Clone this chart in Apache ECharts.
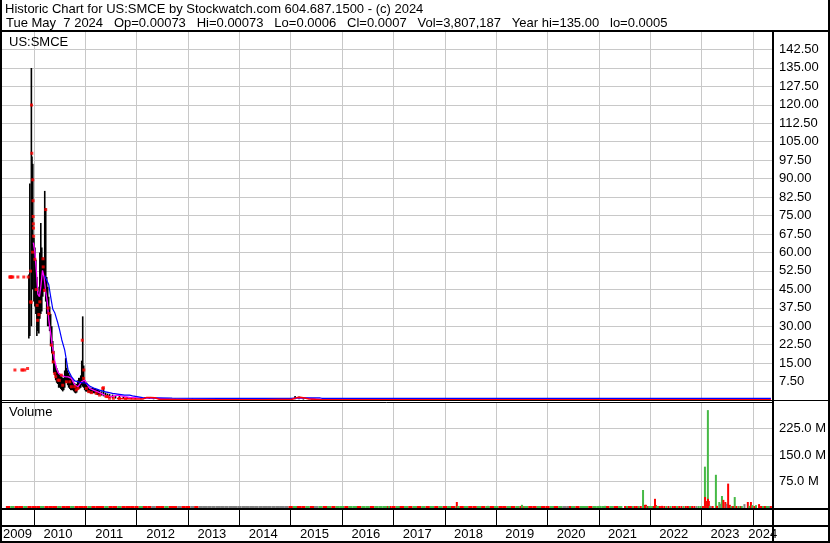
<!DOCTYPE html>
<html>
<head>
<meta charset="utf-8">
<script src="https://cdn.jsdelivr.net/npm/echarts@6.0.0/dist/echarts.min.js"></script>
<style>html,body{margin:0;padding:0;background:#fff;}#chart{width:830px;height:543px;}</style>
</head>
<body>
<div id="chart"></div>
<script>
// ---------------- DATA ----------------
const headerLine1 = 'Historic Chart for US:SMCE by Stockwatch.com 604.687.1500 - (c) 2024';
const headerLine2 = 'Tue May  7 2024   Op=0.00073   Hi=0.00073   Lo=0.0006   Cl=0.0007   Vol=3,807,187   Year hi=135.00   lo=0.0005';
const symbolLabel = 'US:SMCE';
const volumeLabel = 'Volume';

const yearLabels = ['2009','2010','2011','2012','2013','2014','2015','2016','2017','2018','2019','2020','2021','2022','2023','2024'];
const yearLabelDates = ['2009-08-31','2010-06-15','2011-06-15','2012-06-15','2013-06-15','2014-06-15','2015-06-15','2016-06-15','2017-06-15','2018-06-15','2019-06-15','2020-06-15','2021-06-15','2022-06-15','2023-06-15','2024-03-10'];

// daily/weekly high-low bars
const barDates = [
 '2009-11-26','2009-12-03','2009-12-14','2009-12-18','2009-12-24','2010-01-01','2010-01-08','2010-01-15','2010-01-22','2010-01-29',
 '2010-02-05','2010-02-12','2010-02-19','2010-02-26','2010-03-05','2010-03-12','2010-03-19','2010-03-26','2010-04-02','2010-04-09',
 '2010-04-16','2010-04-23','2010-04-30','2010-05-08','2010-05-15','2010-05-22','2010-05-29','2010-06-05','2010-06-12','2010-06-19',
 '2010-06-26','2010-07-03','2010-07-11','2010-07-18','2010-07-25','2010-08-01','2010-08-08','2010-08-15','2010-08-22','2010-08-29',
 '2010-09-05','2010-09-13','2010-09-20','2010-09-27','2010-10-04','2010-10-11','2010-10-18','2010-10-25','2010-11-01','2010-11-08',
 '2010-11-16','2010-11-23','2010-11-30','2010-12-07','2010-12-14','2010-12-21','2010-12-28','2011-01-04','2011-01-11','2011-01-18',
 '2011-01-25','2011-02-01','2011-02-08','2011-02-15','2011-02-22','2011-03-01','2011-03-08','2011-03-15','2011-03-23','2011-03-30',
 '2011-04-06','2011-04-13','2011-04-27','2011-05-11','2011-05-25','2011-06-08','2011-06-23','2011-07-14','2011-08-04','2011-09-01',
 '2011-09-29','2011-10-28','2011-11-25','2011-12-23','2012-02-01','2012-03-01','2012-04-01','2012-05-01','2012-07-01','2012-10-01',
 '2013-02-01','2013-06-01','2013-10-01','2014-03-01','2014-08-01','2015-02-01','2015-03-01','2015-04-01','2015-06-01'];
const barLow = [
 25,26,30,55,45,40,38,35,26,28,
 27,33,35,36,42,44,45,40,35,30,
 30,28,22,19,15,11,10,8,7,6.5,
 5,5,4.5,4,3.5,4,5,7,7,6,
 5,4.5,4,4,4,3.5,3,2.7,3,4,
 4.5,4.7,5,6,5.4,5,4,3.5,3.4,3.4,
 3,2.8,2.7,2.7,2.8,2.8,2.7,2.8,2.2,2,
 2,2,1.8,1.5,1.2,0.9,0.8,0.7,0.6,0.5,
 0.5,0.4,0.3,0.3,0.3,0.4,0.4,0.3,0.2,0.1,
 0.1,0.1,0.1,0.1,0.1,0.3,0.3,0.2,0.1];
const barHigh = [
 51,88,135,99,96,66,62,57,50,46,
 44,60,72,62,58,57,85,78,50,46,
 42,38,35,30,24,20,15,14,13,12,
 11,10.5,10,9.5,9,9,12,17,13,12,
 11,10,9.5,9,8,7,6.8,6,6.5,8,
 9,9,10,16,34,14,8,7.4,7,6,
 5.4,5,5,4.8,5,4.8,4.6,4.5,4.3,4.1,
 4,3.8,3.5,5,3,2.6,2.4,2.2,1.8,1.6,
 1.4,1.2,1.0,0.9,0.9,1.2,1.1,0.9,0.6,0.5,
 0.6,0.5,0.5,0.4,0.4,1.6,1.4,1.0,0.5];

// closing prices (red dots)
const closeDates = [
 '2009-07-14','2009-07-17','2009-07-21','2009-07-28','2009-08-04','2009-08-19','2009-09-09','2009-10-07','2009-10-14','2009-10-21',
 '2009-10-28','2009-11-17','2009-11-21','2009-12-08','2009-12-09','2009-12-12','2009-12-15','2009-12-17','2009-12-23','2009-12-24',
 '2009-12-26','2009-12-27','2009-12-28','2009-12-29','2009-12-30','2010-01-08','2010-01-17','2010-01-24','2010-01-27','2010-02-05',
 '2010-02-12','2010-03-07','2010-03-08','2010-03-17','2010-03-26','2010-04-11','2010-04-18','2010-05-05','2010-05-17','2010-05-18',
 '2010-05-29','2010-06-05','2010-06-21','2010-07-01','2010-07-15','2010-07-25','2010-08-20','2010-09-13','2010-09-24','2010-10-18',
 '2010-10-29','2010-11-10','2010-12-11','2010-12-20','2010-12-22','2011-01-09','2011-01-25','2011-02-15','2011-03-20','2011-04-13',
 '2011-05-05','2011-05-10','2011-05-29','2011-06-10','2011-06-22','2011-07-20','2011-09-01','2011-10-15'];
const closeVals = [
 50,50,50,50,50,12.2,50,12.2,12.2,50,
 12.2,12.8,50,52.4,39.9,39.7,119.9,100.3,60.1,89.5,
 81,74.6,71.6,69.9,66.6,57.2,44.9,38.5,32.4,34.7,
 39.9,57.4,54.1,44.6,77.4,37.4,35.1,22.3,19.2,15.5,
 10.8,9.5,8.1,8.0,10.1,6.0,7.4,7.4,5.4,5.4,
 4.1,4.7,24.3,8.8,12.2,4.7,3.4,3.0,2.7,2.0,
 4.7,5.0,1.4,1.4,0.7,0.7,0.6,0.5];

// closes in the long flat period (dense daily closes merge into a line)
const closeFlatDates = ['2011-08-15','2011-10-15','2011-12-15','2012-02-15','2012-03-10','2012-04-10','2012-05-10','2012-06-15','2012-09-01','2013-01-01',
 '2013-07-01','2014-01-01','2014-07-01','2015-01-10','2015-02-15','2015-03-10','2015-04-10','2015-05-10','2015-08-01','2016-01-01',
 '2016-07-01','2017-01-01','2017-07-01','2018-01-01','2018-07-01','2019-01-01','2019-07-01','2020-01-01','2020-07-01','2021-01-01',
 '2021-07-01','2022-01-01','2022-07-01','2023-01-01','2023-07-01','2024-01-01','2024-05-07'];
const closeFlatVals = [0.6,0.5,0.4,0.4,1.0,1.0,0.9,0.2,0.2,0.15,
 0.15,0.15,0.15,0.3,1.0,1.1,0.8,0.4,0.15,0.15,
 0.15,0.15,0.15,0.15,0.15,0.15,0.15,0.15,0.15,0.15,
 0.15,0.15,0.15,0.15,0.15,0.15,0.15];

// short moving average (magenta)
const maShortDates = ['2009-12-28','2010-01-08','2010-01-19','2010-01-29','2010-02-09','2010-02-19','2010-03-03','2010-03-14','2010-03-26','2010-04-06',
 '2010-04-16','2010-04-30','2010-05-15','2010-05-29','2010-06-12','2010-06-26','2010-07-18','2010-08-08','2010-09-01','2010-09-25',
 '2010-10-18','2010-11-11','2010-12-05','2010-12-28','2011-01-09','2011-02-01','2011-03-08','2011-04-25','2011-05-30','2011-07-05',
 '2011-08-21','2011-10-08','2011-11-12','2012-01-22','2012-04-01','2012-05-27','2012-08-20','2013-03-25','2013-10-27','2014-05-30',
 '2015-01-01','2015-02-20','2015-04-17','2015-06-27','2015-12-20','2017-01-01','2019-01-01','2021-01-01','2023-01-01','2024-05-07'];
const maShortVals = [64,60,52,43,42,46,52.7,50,44,40,
 33,27,21,16,12.5,10.8,10,9.5,9.4,8.8,
 6.1,5.4,7.4,8.1,6.8,4.7,3.8,2.7,1.6,1.4,
 2.0,1.4,1.1,0.8,0.8,0.7,0.45,0.35,0.35,0.3,
 0.3,0.9,0.8,0.4,0.3,0.3,0.3,0.3,0.3,0.3];

// long moving average (blue)
const maLongDates = ['2010-03-19','2010-04-02','2010-04-16','2010-04-30','2010-05-15','2010-05-29','2010-06-19','2010-07-03','2010-07-18','2010-08-08',
 '2010-08-20','2010-09-01','2010-09-25','2010-10-18','2010-11-23','2011-01-09','2011-02-01','2011-03-08','2011-04-13','2011-05-18',
 '2011-07-14','2011-10-08','2011-11-12','2011-12-03','2012-02-13','2012-09-10','2013-09-01','2015-01-01','2015-02-20','2015-07-26',
 '2015-08-10','2024-05-07'];
const maLongVals = [50.5,50,47,42,37,35.5,31.5,28.4,24.5,20.3,
 16.2,12.2,9.5,7.8,7.2,6.8,5.7,4.7,4.0,3.4,
 2.7,2.0,2.0,1.7,1.0,0.8,0.7,0.7,0.9,0.9,
 0.7,0.7];

// monthly volume (millions), u = up, d = down, n = unchanged
const volMonthDates = [
 '2009-07','2009-08','2009-09','2009-10','2009-11','2009-12',
 '2010-01','2010-02','2010-03','2010-04','2010-05','2010-06','2010-07','2010-08','2010-09','2010-10','2010-11','2010-12',
 '2011-01','2011-02','2011-03','2011-04','2011-05','2011-06','2011-07','2011-08','2011-09','2011-10','2011-11','2011-12',
 '2012-01','2012-02','2012-03','2012-04','2012-05','2012-06','2012-07','2012-08','2012-09','2012-10','2012-11','2012-12',
 '2013-01','2013-02','2013-03','2013-04','2013-05','2013-06','2013-07','2013-08','2013-09','2013-10','2013-11','2013-12',
 '2014-01','2014-02','2014-03','2014-04','2014-05','2014-06','2014-07','2014-08','2014-09','2014-10','2014-11','2014-12',
 '2015-01','2015-02','2015-03','2015-04','2015-05','2015-06','2015-07','2015-08','2015-09','2015-10','2015-11','2015-12',
 '2016-01','2016-02','2016-03','2016-04','2016-05','2016-06','2016-07','2016-08','2016-09','2016-10','2016-11','2016-12',
 '2017-01','2017-02','2017-03','2017-04','2017-05','2017-06','2017-07','2017-08','2017-09','2017-10','2017-11','2017-12',
 '2018-01','2018-02','2018-03','2018-04','2018-05','2018-06','2018-07','2018-08','2018-09','2018-10','2018-11','2018-12',
 '2019-01','2019-02','2019-03','2019-04','2019-05','2019-06','2019-07','2019-08','2019-09','2019-10','2019-11','2019-12',
 '2020-01','2020-02','2020-03','2020-04','2020-05','2020-06','2020-07','2020-08','2020-09','2020-10','2020-11','2020-12',
 '2021-01','2021-02','2021-03','2021-04','2021-05','2021-06'];
const volMonthVals = [
 2,3,2,3,4,3,
 3,3,2,3,3,2,2,3,3,2,2,3,
 2,3,2,2,3,2,2,2,2,2,2,2,
 2,2,3,2,2,2,2,2,2,2,2,2,
 2,2,2,2,2,2,2,2,2,2,2,2,
 2,2,2,2,2,2,2,2,2,2,2,2,
 2,2,3,2,2,2,2,2,2,2,2,2,
 2,2,2,2,2,2,2,2,2,2,2,2,
 2,3,2,2,3,2,2,2,3,2,2,3,
 2,2,2,3,2,2,3,2,2,2,2,2,
 2,3,2,2,3,2,2,3,2,2,3,2,
 3,2,2,3,2,2,3,2,2,3,2,3,
 3,3,2,3,2,3];
const volMonthDirs = ('duddud' + 'dduddduddudd' + 'dudddudduddd' + 'duddndduddnd' + 'dndnnnnnnnnn' + 'nnnnnnnnnnnn' +
 'duddudnududu' + 'uduuduuduuud' + 'dudududududu' + 'dudududdudud' + 'uddudududdud' + 'dudunduduudu' + 'uududu').split('');

// individual volume days (millions)
const volDayDates = [
 '2016-08-01','2016-11-29','2018-03-27','2018-04-03','2018-11-02','2019-07-03','2020-05-25','2021-01-05','2021-02-13','2021-07-05',
 '2021-07-19','2021-08-02','2021-08-16','2021-08-30','2021-09-13','2021-09-27','2021-10-11','2021-10-25','2021-11-10','2021-11-17',
 '2021-11-24','2021-12-01','2021-12-08','2021-12-15','2021-12-22','2022-01-05','2022-01-19','2022-01-26','2022-02-03','2022-02-10',
 '2022-02-17','2022-03-01','2022-03-10','2022-03-25','2022-04-10','2022-04-25','2022-05-10','2022-05-25','2022-06-10','2022-06-25',
 '2022-07-10','2022-07-25','2022-08-10','2022-08-25','2022-09-10','2022-09-25','2022-10-10','2022-10-25','2022-11-10','2022-11-25',
 '2022-12-10','2022-12-25','2023-01-10','2023-01-24','2023-01-25','2023-02-01','2023-02-14','2023-02-15','2023-02-21','2023-02-28',
 '2023-03-07','2023-03-20','2023-04-12','2023-04-20','2023-05-06','2023-05-15','2023-05-25','2023-06-04','2023-06-18','2023-06-28',
 '2023-07-08','2023-07-20','2023-08-01','2023-08-12','2023-08-24','2023-09-05','2023-09-20','2023-10-05','2023-10-13','2023-11-01',
 '2023-11-25','2023-12-06','2023-12-17','2023-12-27','2024-01-10','2024-01-22','2024-02-13','2024-02-27','2024-03-12','2024-03-26',
 '2024-04-08','2024-04-17','2024-04-29','2024-05-07'];
const volDayVals = [
 4,5,17,5,6,9,5,6,6,2,
 3,2,3,2,3,2,3,3,51,6,
 9,9,5,4,3,4,5,3,26,8,
 4,3,4,6,2,3,2,4,2,2,
 3,2,2,3,2,2,2,2,2,4,
 2,2,3,117,31,20,277,26,20,6,
 4,5,94,6,17,12,34,23,17,12,
 69,9,4,5,31,3,4,2,4,11,
 17,6,17,8,4,8,11,3,3,4,
 4,4,3,2];
const volDayDirs = ('duduuunuud' + 'uddudduduu' + 'dduduuuddd' + 'uudddududd' + 'uddudduddn' +
 'uududduddu' + 'ndudunuddn' + 'ddudududun' + 'dudududdud' + 'uund').split('');

// ---------------- RENDER ----------------
function T(s) { const p = s.split('-').map(Number); return Date.UTC(p[0], (p[1] || 1) - 1, p[2] || 1); }
const FONT = '"Liberation Sans", Arial, sans-serif';
const GRID_C = '#c8c8c8';
const DIR_CODE = { u: 1, d: 2, n: 3 };
const DIR_COLOR = { 1: '#46b946', 2: '#ff0000', 3: '#808080' };
const xMin = T('2009-05-12'), xMax = T('2024-05-22');
const yearLabelTs = yearLabelDates.map(T);

function timeAxis(gridIndex, extra) {
  return Object.assign({
    type: 'time', gridIndex, min: xMin, max: xMax, splitNumber: 15,
    axisLine: { show: false }, axisTick: { show: false }, axisLabel: { show: false },
    splitLine: { show: true, lineStyle: { color: GRID_C, width: 1 } }
  }, extra || {});
}

const bars = barDates.map((d, i) => [T(d), barLow[i], barHigh[i]]);
const closes = closeDates.map((d, i) => [T(d), closeVals[i]]);
const closeFlat = closeFlatDates.map((d, i) => [T(d), closeFlatVals[i]]);
const maShort = maShortDates.map((d, i) => [T(d), maShortVals[i]]);
const maLong = maLongDates.map((d, i) => [T(d), maLongVals[i]]);
const volMonth = volMonthDates.map((d, i) => [T(d), volMonthVals[i], DIR_CODE[volMonthDirs[i]]]);
const volDay = volDayDates.map((d, i) => [T(d), volDayVals[i], DIR_CODE[volDayDirs[i]]]);

function volRender(w) {
  return function (params, api) {
    const base = api.coord([api.value(0), 0]);
    const top = api.coord([api.value(0), api.value(1)]);
    const code = Math.round(api.value(2));
    const h = Math.max(base[1] - top[1], 2);
    return { type: 'rect', shape: { x: base[0] - w / 2, y: base[1] - h, width: w, height: h },
      style: { fill: DIR_COLOR[code] || '#808080' } };
  };
}

const chart = echarts.init(document.getElementById('chart'), null, { renderer: 'canvas' });
const hl = (x1, x2, y, w) => ({ type: 'line', z: 100, shape: { x1, y1: y, x2, y2: y }, style: { stroke: '#000', lineWidth: w } });
const vl = (x, y1, y2, w) => ({ type: 'line', z: 100, shape: { x1: x, y1, x2: x, y2 }, style: { stroke: '#000', lineWidth: w } });
const txt = (x, y, s) => ({ type: 'text', z: 101, x, y, style: { text: s, font: '13px ' + FONT, fill: '#000', verticalAlign: 'middle' } });

chart.setOption({
  animation: false,
  useUTC: true,
  backgroundColor: '#fff',
  grid: [
    { left: 1, right: 57, top: 31, height: 369 },
    { left: 1, right: 57, top: 402, height: 106 },
    { left: 1, right: 57, top: 510, height: 16 },
    { left: 1, right: 57, top: 527, height: 15 }
  ],
  xAxis: [
    timeAxis(0),
    timeAxis(1),
    timeAxis(2, { splitLine: { show: true, lineStyle: { color: '#000', width: 1 } } }),
    {
      type: 'value', gridIndex: 3, min: xMin, max: xMax, position: 'top',
      axisLine: { show: false }, axisTick: { show: false }, splitLine: { show: false },
      axisLabel: {
        show: true, inside: true, margin: 1, color: '#000', fontSize: 13, fontFamily: FONT,
        customValues: yearLabelTs,
        formatter: function (v) {
          let k = 0;
          for (let i = 1; i < yearLabelTs.length; i++) if (Math.abs(yearLabelTs[i] - v) < Math.abs(yearLabelTs[k] - v)) k = i;
          return yearLabels[k];
        }
      }
    }
  ],
  yAxis: [
    { type: 'value', gridIndex: 0, position: 'right', min: 0, max: 150, interval: 7.5,
      axisLine: { show: false }, axisTick: { show: false },
      axisLabel: { margin: 6, color: '#000', fontSize: 13, fontFamily: FONT, showMinLabel: false, showMaxLabel: false,
        formatter: v => v.toFixed(2) },
      splitLine: { lineStyle: { color: GRID_C, width: 1 } } },
    { type: 'value', gridIndex: 1, position: 'right', min: 0, max: 300, interval: 75,
      axisLine: { show: false }, axisTick: { show: false },
      axisLabel: { margin: 6, color: '#000', fontSize: 13, fontFamily: FONT, showMinLabel: false, showMaxLabel: false,
        formatter: v => v.toFixed(1) + ' M' },
      splitLine: { lineStyle: { color: GRID_C, width: 1 } } },
    { type: 'value', gridIndex: 2, min: 0, max: 1, show: false },
    { type: 'value', gridIndex: 3, min: 0, max: 1, show: false }
  ],
  series: [
    { type: 'custom', name: 'range', xAxisIndex: 0, yAxisIndex: 0, z: 2,
      dimensions: ['t', 'low', 'high'], encode: { x: 0, y: [1, 2] }, data: bars,
      renderItem: function (params, api) {
        const lo = api.coord([api.value(0), api.value(1)]);
        const hi = api.coord([api.value(0), api.value(2)]);
        return { type: 'line', shape: { x1: lo[0], y1: lo[1], x2: lo[0], y2: Math.min(hi[1], lo[1] - 1) },
          style: { stroke: '#000', lineWidth: 1.6 } };
      } },
    { type: 'line', name: 'short MA', xAxisIndex: 0, yAxisIndex: 0, z: 3, data: maShort, showSymbol: false,
      lineStyle: { color: '#ff00ff', width: 1.3 }, itemStyle: { color: '#ff00ff' } },
    { type: 'line', name: 'long MA', xAxisIndex: 0, yAxisIndex: 0, z: 4, data: maLong, showSymbol: false,
      lineStyle: { color: '#0000ff', width: 1.2 }, itemStyle: { color: '#0000ff' } },
    { type: 'line', name: 'close flat', xAxisIndex: 0, yAxisIndex: 0, z: 5, data: closeFlat, showSymbol: false,
      lineStyle: { color: '#ff0000', width: 1.4 }, itemStyle: { color: '#ff0000' } },
    { type: 'scatter', name: 'close', xAxisIndex: 0, yAxisIndex: 0, z: 6, data: closes,
      symbol: 'rect', symbolSize: 3, itemStyle: { color: '#ff0000' } },
    { type: 'custom', name: 'volume monthly', xAxisIndex: 1, yAxisIndex: 1, z: 2,
      dimensions: ['t', 'v', 'dir'], encode: { x: 0, y: 1 }, data: volMonth, renderItem: volRender(4.3) },
    { type: 'custom', name: 'volume daily', xAxisIndex: 1, yAxisIndex: 1, z: 3,
      dimensions: ['t', 'v', 'dir'], encode: { x: 0, y: 1 }, data: volDay, renderItem: volRender(2) }
  ],
  graphic: [
    txt(5, 9, headerLine1),
    txt(6, 23, headerLine2),
    txt(9, 42, symbolLabel),
    txt(9, 412, volumeLabel),
    hl(0, 830, 31, 2),
    hl(0, 830, 400.5, 1),
    hl(0, 773, 402.5, 1),
    hl(0, 830, 509, 2),
    hl(0, 830, 526, 2),
    hl(0, 830, 542, 2),
    vl(1, 0, 543, 2),
    vl(829, 0, 543, 2),
    vl(773, 31, 543, 2)
  ]
});
</script>
</body>
</html>
